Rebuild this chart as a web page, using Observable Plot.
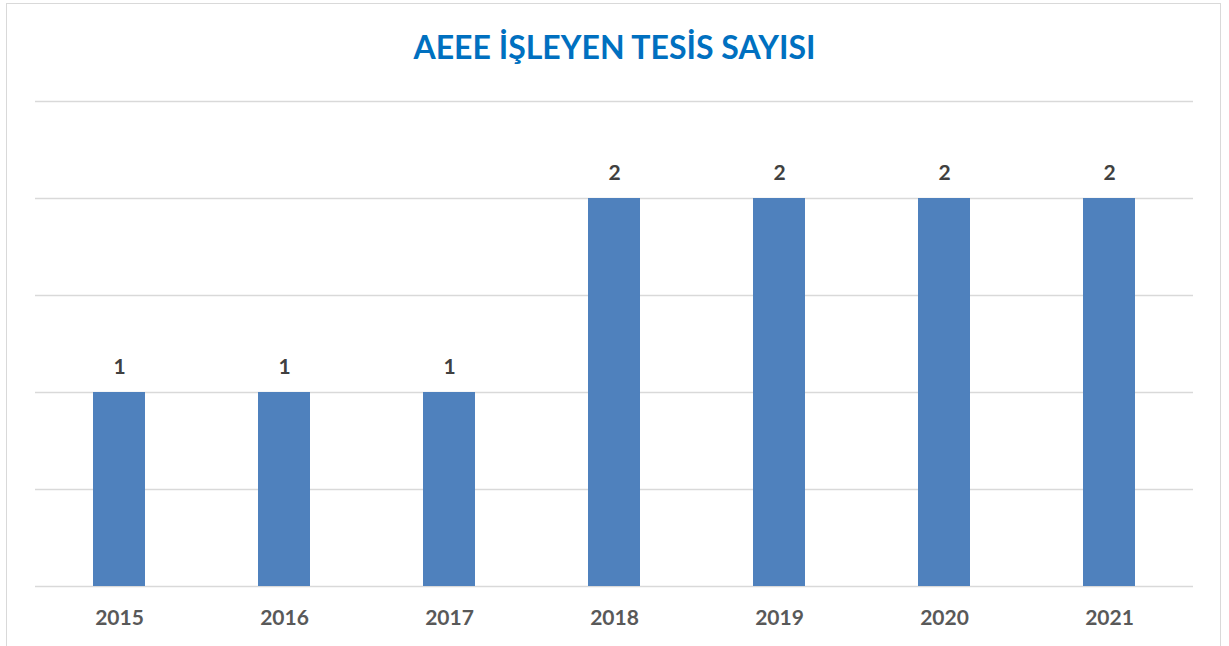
<!DOCTYPE html>
<html>
<head>
<meta charset="utf-8">
<script src="https://cdn.jsdelivr.net/npm/d3@7"></script>
<script src="https://cdn.jsdelivr.net/npm/@observablehq/plot@0.6"></script>
<style>
  html, body { margin: 0; padding: 0; background: #fff; }
  #wrap { position: relative; width: 1229px; height: 646px; overflow: hidden; }
  #frame { position: absolute; left: 6px; top: 3px; width: 1215px; height: 700px; border: 1px solid #d9d9d9; box-sizing: border-box; }
  #title { position: absolute; left: 0; width: 1229px; top: 27px; text-align: center; font-family: Lato, sans-serif; font-weight: bold; font-size: 32px; color: #0070c0; line-height: 40px; }
  #chart { position: absolute; left: 0; top: 0; }
</style>
</head>
<body>
<div id="wrap">
  <div id="frame"></div>
  <div id="chart"></div>
  <div id="title">AEEE İŞLEYEN TESİS SAYISI</div>
</div>
<script>
const years = ["2015", "2016", "2017", "2018", "2019", "2020", "2021"];
const counts = [1, 1, 1, 2, 2, 2, 2];
const gridTicks = [0, 0.5, 1, 1.5, 2, 2.5];

const data = years.map((y, i) => ({year: y, count: counts[i]}));

const chart = Plot.plot({
  width: 1229,
  height: 646,
  marginLeft: 35,
  marginRight: 36,
  marginTop: 101,
  marginBottom: 60,
  style: {background: "transparent", fontFamily: "Lato, sans-serif"},
  x: {domain: years, paddingInner: 0.686, paddingOuter: 0.343, label: null},
  y: {domain: [0, 2.5], axis: null},
  marks: [
    Plot.ruleY(gridTicks, {stroke: "#d9d9d9", strokeWidth: 1.5}),
    Plot.barY(data, {x: "year", y: "count", fill: "#4f81bd"}),
    Plot.text(data, {x: "year", y: "count", text: d => String(d.count), dy: -25, fill: "#404040", fontSize: 21, fontWeight: "bold"}),
    Plot.axisX({tickSize: 0, tickPadding: 24, fontSize: 21, fontWeight: "bold", color: "#595959", label: null})
  ]
});
document.getElementById("chart").appendChild(chart);
</script>
</body>
</html>
